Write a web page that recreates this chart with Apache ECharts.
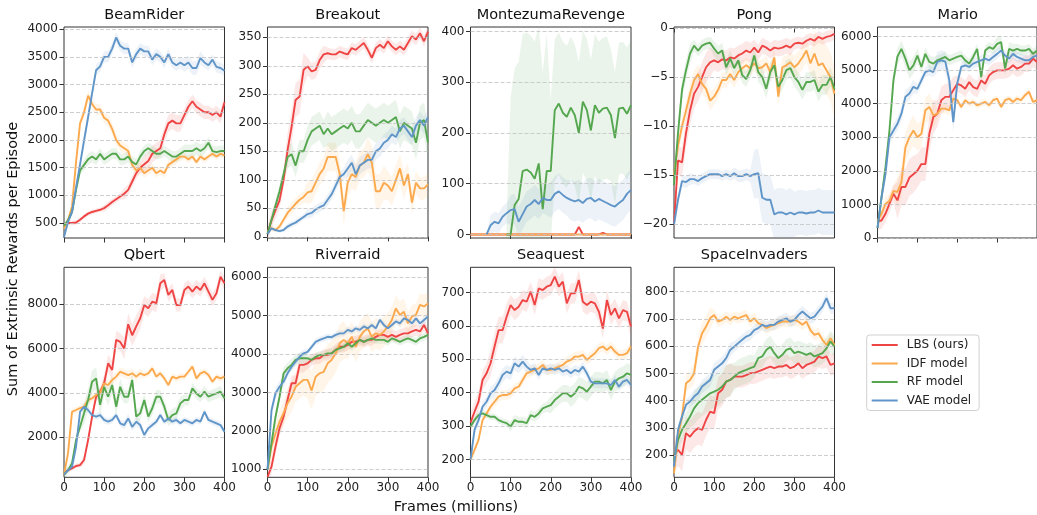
<!DOCTYPE html>
<html>
<head>
<meta charset="utf-8" />
<title>Sum of Extrinsic Rewards per Episode</title>
<script src="https://cdn.jsdelivr.net/npm/echarts@6/dist/echarts.min.js"></script>
<style>
  html, body { margin: 0; padding: 0; background: #fff; }
  #chart { width: 1037px; height: 515px; }
</style>
</head>
<body>
<div id="chart"></div>
<script>
// x grid, millions of frames
var frames = [0,10,20,30,40,50,60,70,80,90,100,110,120,130,140,150,160,170,180,190,200,
  210,220,230,240,250,260,270,280,290,300,310,320,330,340,350,360,370,380,390,400];

var modelNames = ['LBS (ours)', 'IDF model', 'RF model', 'VAE model'];

// BeamRider
var beamRiderLBS = [450,500,500,510,560,620,670,700,720,740,770,820,880,930,980,1030,1100,1250,1400,1500,1560,1620,1750,1800,1850,2100,2300,2350,2300,2300,2450,2600,2700,2600,2550,2500,2500,2450,2500,2420,2680];
var beamRiderIDF = [400,550,800,1600,2300,2500,2800,2650,2550,2550,2400,2350,2200,2000,1900,1850,1800,1550,1450,1500,1400,1450,1500,1400,1450,1400,1550,1600,1650,1700,1700,1650,1700,1600,1700,1650,1700,1750,1700,1750,1720];
var beamRiderRF = [450,550,700,1100,1450,1550,1650,1700,1650,1750,1650,1700,1750,1750,1650,1650,1700,1600,1560,1700,1800,1850,1800,1750,1750,1800,1750,1700,1700,1750,1800,1800,1800,1850,1800,1850,1950,1800,1780,1800,1800];
var beamRiderVAE = [250,520,700,1140,1560,1990,2410,2840,3260,3330,3500,3500,3650,3850,3700,3650,3650,3400,3550,3650,3600,3600,3450,3550,3500,3400,3550,3400,3350,3400,3350,3400,3300,3300,3480,3400,3350,3450,3320,3300,3250];
var beamRiderSpread = [[40,40,60,100,150,150,120,120],[60,100,100,100,80,80,60,60],[60,100,100,100,100,100,120,100],[60,100,100,100,100,100,120,100]];
var beamRiderTicks = [500,1000,1500,2000,2500,3000,3500,4000];

// Breakout
var breakoutLBS = [5,29,47,64,100,152,193,240,246,293,299,290,293,310,320,322,320,320,325,322,320,331,328,334,340,328,314,331,337,331,343,334,328,334,328,340,352,346,357,343,360];
var breakoutIDF = [10,15,12,18,30,42,50,58,65,70,78,80,95,110,120,140,140,140,110,45,95,110,105,125,130,145,130,80,80,95,90,80,100,120,90,110,60,95,85,85,92];
var breakoutRF = [5,30,55,80,110,140,145,125,150,150,170,185,190,195,180,190,180,185,190,195,190,200,185,185,195,205,200,195,200,205,200,205,210,185,200,195,190,165,200,205,165];
var breakoutVAE = [5,15,12,10,12,18,22,25,30,35,40,42,48,52,55,65,75,90,105,110,120,130,110,125,130,135,135,150,155,165,170,180,175,190,195,185,175,195,205,195,210];
var breakoutSpread = [[15,30,15,10,10,10,10,10],[5,10,20,25,25,30,25,20],[10,20,25,30,30,30,30,30],[3,5,8,10,15,15,15,15]];
var breakoutTicks = [0,50,100,150,200,250,300,350];

// MontezumaRevenge
var montezumaLBS = [0,0,0,0,0,0,0,0,0,0,0,0,0,0,0,0,0,0,0,0,0,0,0,0,0,0,0,15,0,0,0,0,0,3,0,0,0,0,0,0,0];
var montezumaIDF = [0,0,0,0,0,0,0,0,0,0,0,0,0,0,0,0,0,0,0,0,0,0,0,0,0,0,0,0,0,0,0,0,0,0,0,0,0,0,0,0,0];
var montezumaRF = [null,null,null,null,null,null,null,null,null,0,0,58,70,125,128,122,110,140,50,125,125,245,258,240,232,250,235,200,262,245,205,255,240,248,250,235,190,248,250,238,255];
var montezumaVAE = [null,null,null,null,0,18,25,22,35,42,48,50,25,40,55,60,68,60,72,68,68,80,85,78,72,68,65,68,62,70,72,65,70,66,62,58,55,62,68,80,88];
var montezumaSpread = [[0,0,0,0,0,0,0,0],[0,0,0,0,0,0,0,0],[0,30,270,270,140,140,140,130],[0,20,30,30,35,40,40,40]];
var montezumaTicks = [0,100,200,300,400];

// Pong
var pongLBS = [-20,-13.5,-13.7,-10.7,-8.4,-6.7,-6.0,-5.0,-4.0,-3.5,-3.3,-3.5,-3.2,-3.3,-3.0,-3.1,-2.8,-2.6,-2.3,-2.5,-2.0,-2.5,-1.8,-2.0,-2.3,-2.0,-2.1,-2.0,-1.8,-2.0,-1.6,-1.5,-1.6,-1.3,-1.1,-1.3,-0.9,-1.1,-0.9,-0.8,-0.6];
var pongIDF = [-15,-12,-10,-8.4,-6.7,-5.3,-4.7,-5.7,-6.2,-7.4,-7.0,-6.3,-5.3,-5.3,-4.7,-5.3,-4.5,-4.1,-3.8,-4.1,-3.6,-4.1,-4.0,-3.6,-4.5,-3.0,-7.0,-4.0,-3.8,-3.5,-4.0,-3.6,-3.0,-2.3,-3.6,-2.6,-3.8,-3.6,-4.3,-5.0,-6.7];
var pongRF = [-16,-10.7,-6.3,-4.3,-2.6,-1.8,-2.3,-1.8,-1.6,-1.5,-2.1,-2.6,-2.3,-4.0,-3.1,-4.1,-3.3,-4.8,-5.2,-4.3,-2.8,-4.5,-5.0,-6.2,-4.5,-3.8,-6.0,-5.3,-4.3,-4.1,-5.0,-5.5,-6.3,-5.5,-5.5,-5.3,-6.5,-5.8,-5.8,-5.0,-6.2];
var pongVAE = [-20,-17.5,-15.6,-15.7,-15.4,-15.4,-15.6,-15.3,-15.1,-14.9,-14.9,-14.9,-15.1,-14.9,-15.1,-14.8,-15.1,-15.1,-14.9,-15.1,-14.9,-14.8,-17.3,-17.5,-17.5,-19.0,-18.8,-18.8,-19.0,-18.8,-19.0,-18.8,-18.8,-18.9,-18.8,-18.8,-18.6,-18.8,-18.8,-18.8,-18.8];
var pongSpread = [[1.5,1.5,1,1,0.8,0.8,0.6,0.6],[1,1,0.8,0.8,0.8,1,1.2,2.5],[1,0.6,0.8,0.8,1,1,1,1],[0.6,0.5,0.5,0.6,2.5,2.5,2.3,2.3]];
var pongTicks = [-20,-15,-10,-5,0];

// Mario
var marioLBS = [500,520,720,1020,1320,1120,1520,1520,1800,1900,2000,2200,2200,3100,3600,3700,4100,4200,4200,4400,4590,4540,4440,4640,4490,4440,4690,4590,4840,4940,4990,4990,4990,5040,5140,5040,5090,5190,5190,5340,5240];
var marioIDF = [500,720,1020,1100,1400,1370,1660,2700,3000,3200,3000,3100,3800,3900,3650,3700,3850,3850,3800,4150,4100,3900,4100,4000,4050,3950,4000,4050,3950,4100,4150,3900,4100,4150,4050,4150,4100,4250,4350,4050,4100];
var marioRF = [300,1200,2100,3200,4700,5400,5630,5340,4990,5140,5430,5090,5480,5240,5190,5290,5340,5390,5290,5340,5390,5430,5290,5190,5390,5630,4790,5580,5680,5630,5780,5830,5040,5630,5580,5630,5580,5580,5630,5480,5580];
var marioVAE = [300,1200,1900,3000,3200,3400,3700,4200,4300,4500,4440,4690,4940,4990,4940,5240,5290,5250,4700,3450,4600,5090,5140,5090,5190,5240,5290,5340,5290,5390,5480,5580,5430,5340,5480,5390,5340,5290,5290,5390,5430];
var marioSpread = [[250,550,500,400,250,250,250,250],[200,450,400,150,100,100,100,100],[200,250,200,150,150,150,200,150],[200,200,150,300,150,150,150,150]];
var marioTicks = [0,1000,2000,3000,4000,5000,6000];

// Qbert
var qbertLBS = [350,500,580,690,730,960,1860,2920,3820,4050,4430,5330,5030,6390,6300,6000,7100,6600,7000,7370,7970,7820,8120,8050,8950,9100,8420,8650,7970,7970,8650,8800,8570,8800,8650,8950,8570,8200,8500,9250,8950];
var qbertIDF = [300,1260,3140,3220,3300,3370,3670,3750,3900,3970,4430,4350,4580,4730,4950,4880,4800,4880,4730,4880,4800,4880,5100,4730,4880,4650,4350,4730,4650,4730,4730,4950,5180,4650,4880,4950,4800,4500,4730,4650,4730];
var qbertRF = [300,500,800,1860,2460,3070,3670,4500,4650,3450,4270,3820,4350,3370,4270,3820,3820,4580,2920,3070,3670,2920,3300,3820,3820,3370,2770,2990,3070,3520,3670,3670,4200,3970,3820,4050,3820,3900,3970,4050,3750];
var qbertVAE = [300,500,650,1560,3140,3370,3220,2990,2920,2990,2770,2690,2770,2990,2620,2540,2840,2460,2690,2540,2090,2390,2540,2690,2990,2690,2840,2690,2770,2620,2770,2690,2620,2770,2690,3140,2770,2690,2620,2540,2240];
var qbertSpread = [[100,200,400,500,400,300,300,300],[150,200,200,200,150,150,150,150],[200,500,400,300,300,300,250,250],[100,150,150,200,150,150,150,150]];
var qbertTicks = [2000,4000,6000,8000];

// Riverraid
var riverraidLBS = [800,1070,1590,2070,2370,2810,3240,3240,3720,3720,3760,3850,3890,3890,3980,3980,4020,4110,4190,4190,4240,4320,4320,4370,4320,4370,4370,4450,4500,4500,4450,4500,4450,4500,4540,4540,4590,4630,4590,4760,4540];
var riverraidIDF = [1000,1590,1940,2240,2460,2720,2890,3150,3240,3330,3330,3050,3410,3500,3540,3760,3850,4020,4280,4370,4280,4450,4190,4450,4590,4670,4450,4540,4500,4590,4720,4890,5190,5020,5100,4800,4980,5020,5280,5240,5320];
var riverraidRF = [1000,1680,2370,2890,3500,3630,3720,3850,3890,3890,3890,3850,3930,3980,3980,4020,4020,4110,4150,4190,4280,4190,4280,4370,4320,4370,4410,4370,4370,4370,4320,4410,4370,4320,4370,4410,4370,4320,4410,4450,4500];
var riverraidVAE = [1000,2540,2980,3150,3280,3500,3670,3800,3930,4020,4060,4190,4320,4370,4410,4450,4440,4500,4540,4540,4630,4590,4670,4630,4720,4670,4760,4670,4890,4760,4670,4760,4850,4800,4930,4890,4800,4930,4800,4890,4980];
var riverraidSpread = [[200,200,150,150,150,150,150,150],[300,400,500,500,400,400,350,300],[150,150,100,100,100,100,100,100],[150,100,80,80,80,80,80,100]];
var riverraidTicks = [1000,2000,3000,4000,5000,6000];

// Seaquest
var seaquestLBS = [310,343,373,438,458,488,538,587,587,627,662,647,657,677,672,702,662,712,707,717,722,747,717,732,667,697,697,737,672,662,672,667,642,592,677,632,652,622,647,642,597];
var seaquestIDF = [200,229,259,318,338,358,373,388,393,393,398,413,418,438,458,463,468,473,483,468,468,473,478,483,493,498,508,508,513,498,508,518,533,538,528,538,523,513,513,518,538];
var seaquestRF = [299,318,333,338,333,328,328,318,313,309,299,318,313,313,309,333,328,338,353,358,363,378,388,398,398,388,398,418,413,403,418,433,433,428,438,408,433,443,448,458,453];
var seaquestVAE = [200,289,318,358,373,398,408,428,453,463,458,488,478,493,478,468,473,453,473,468,473,468,473,463,468,458,468,463,478,458,433,428,428,428,428,423,438,418,433,438,423];
var seaquestSpread = [[30,40,30,30,30,30,30,30],[10,15,15,15,15,15,15,15],[10,10,15,15,25,30,30,30],[15,20,20,15,15,15,15,15]];
var seaquestTicks = [200,300,400,500,600,700];

// SpaceInvaders
var spaceLBS = [200,220,201,281,268,287,299,293,330,360,354,427,440,470,476,488,488,488,494,501,501,507,513,519,525,519,525,525,531,519,525,537,519,531,537,543,562,556,562,531,537];
var spaceIDF = [134,268,342,464,476,500,598,647,672,702,714,690,696,708,696,708,702,708,714,690,702,684,678,666,672,678,684,690,690,690,696,690,678,690,659,641,647,623,604,629,604];
var spaceRF = [180,256,293,317,342,372,391,403,415,427,433,440,452,470,476,488,501,507,513,519,525,556,562,586,598,574,556,568,586,592,574,580,574,568,574,562,568,574,592,617,598];
var spaceVAE = [158,293,342,385,397,415,427,452,464,476,513,525,537,556,586,598,611,623,635,641,659,666,678,672,678,678,690,696,702,690,696,714,727,714,702,708,727,745,776,739,739];
var spaceSpread = [[60,60,60,40,40,40,40,40],[30,40,20,20,20,20,20,20],[40,60,60,50,40,40,40,40],[20,25,25,20,20,20,20,20]];
var spaceTicks = [200,300,400,500,600,700,800];

var panels = [
  { title: 'BeamRider', lines: [beamRiderLBS, beamRiderIDF, beamRiderRF, beamRiderVAE], spread: beamRiderSpread, ticks: beamRiderTicks, min: 230, max: 4040 },
  { title: 'Breakout', lines: [breakoutLBS, breakoutIDF, breakoutRF, breakoutVAE], spread: breakoutSpread, ticks: breakoutTicks, min: -2, max: 368 },
  { title: 'MontezumaRevenge', lines: [montezumaLBS, montezumaIDF, montezumaRF, montezumaVAE], spread: montezumaSpread, ticks: montezumaTicks, min: -7, max: 409 },
  { title: 'Pong', lines: [pongLBS, pongIDF, pongRF, pongVAE], spread: pongSpread, ticks: pongTicks, min: -21.4, max: 0.1 },
  { title: 'Mario', lines: [marioLBS, marioIDF, marioRF, marioVAE], spread: marioSpread, ticks: marioTicks, min: 0, max: 6280 },
  { title: 'Qbert', lines: [qbertLBS, qbertIDF, qbertRF, qbertVAE], spread: qbertSpread, ticks: qbertTicks, min: 177, max: 9673 },
  { title: 'Riverraid', lines: [riverraidLBS, riverraidIDF, riverraidRF, riverraidVAE], spread: riverraidSpread, ticks: riverraidTicks, min: 792, max: 6260 },
  { title: 'Seaquest', lines: [seaquestLBS, seaquestIDF, seaquestRF, seaquestVAE], spread: seaquestSpread, ticks: seaquestTicks, min: 147, max: 775 },
  { title: 'SpaceInvaders', lines: [spaceLBS, spaceIDF, spaceRF, spaceVAE], spread: spaceSpread, ticks: spaceTicks, min: 119, max: 889 }
];

var colors = ['#ef4444', '#fba94c', '#55a74f', '#5f95c8'];
var font = 'DejaVu Sans';
var colLeft = [64, 267.5, 470.5, 674, 877.5];
var rowTop = [27, 267.3];
var rowHeight = [211, 210];
var plotWidth = 160.5;

function minusSign(v) {
  return String(v).replace('-', '\u2212');
}

// shaded band: line value +/- spread of its 50-frame block
function bandSeries(idx, values, spread, color) {
  return {
    type: 'custom',
    xAxisIndex: idx,
    yAxisIndex: idx,
    silent: true,
    clip: true,
    z: 1,
    data: [[0, 0]],
    renderItem: function (params, api) {
      var upper = [], lower = [];
      frames.forEach(function (x, i) {
        if (values[i] === null) return;
        var w = spread[Math.min(spread.length - 1, Math.floor(x / 50))];
        upper.push(api.coord([x, values[i] + w]));
        lower.unshift(api.coord([x, values[i] - w]));
      });
      return {
        type: 'polygon',
        shape: { points: upper.concat(lower) },
        style: { fill: color, opacity: 0.12 }
      };
    }
  };
}

var grids = [], xAxes = [], yAxes = [], series = [], texts = [];

panels.forEach(function (p, idx) {
  var row = idx < 5 ? 0 : 1;
  var col = idx < 5 ? idx : idx - 5;
  grids.push({
    left: colLeft[col], top: rowTop[row], width: plotWidth, height: rowHeight[row],
    show: true, borderColor: '#333', borderWidth: 1, backgroundColor: 'transparent'
  });
  xAxes.push({
    type: 'value', gridIndex: idx, min: 0, max: 400, interval: 100,
    axisLine: { show: false },
    axisTick: { show: true, length: 4.5, lineStyle: { color: '#333' } },
    axisLabel: { show: row === 1, margin: 5, fontSize: 12, fontFamily: font, color: '#222' },
    splitLine: { show: false }
  });
  yAxes.push({
    type: 'value', gridIndex: idx, min: p.min, max: p.max,
    axisLine: { show: false },
    axisTick: { show: true, length: 4.5, customValues: p.ticks, lineStyle: { color: '#333' } },
    axisLabel: { customValues: p.ticks, margin: 6, fontSize: 12, fontFamily: font, color: '#222', formatter: minusSign },
    splitLine: { show: false }
  });
  // dashed horizontal grid lines at the tick values
  series.push({
    type: 'line', xAxisIndex: idx, yAxisIndex: idx, data: [], z: 0, silent: true,
    markLine: {
      silent: true, symbol: 'none', animation: false,
      label: { show: false },
      lineStyle: { color: '#c2c2c2', type: [4, 2], width: 0.8 },
      data: p.ticks.map(function (v) { return { yAxis: v }; })
    }
  });
  p.lines.forEach(function (values, k) {
    series.push(bandSeries(idx, values, p.spread[k], colors[k]));
  });
  p.lines.forEach(function (values, k) {
    series.push({
      name: modelNames[k],
      type: 'line',
      xAxisIndex: idx, yAxisIndex: idx,
      data: frames.map(function (x, i) { return [x, values[i] === null ? '-' : values[i]]; }),
      showSymbol: false, symbol: 'none', clip: true, z: 2,
      color: colors[k],
      lineStyle: { width: 1.9, color: colors[k] }
    });
  });
  texts.push({
    type: 'text', x: colLeft[col] + plotWidth / 2, y: row === 0 ? 15.5 : 255,
    style: { text: p.title, fontSize: 14.5, fontFamily: font, fill: '#111', textAlign: 'center', textVerticalAlign: 'middle' }
  });
});

texts.push({
  type: 'text', x: 456, y: 507,
  style: { text: 'Frames (millions)', fontSize: 14.5, fontFamily: font, fill: '#111', textAlign: 'center', textVerticalAlign: 'middle' }
});
texts.push({
  type: 'text', x: 13, y: 259, rotation: Math.PI / 2,
  style: { text: 'Sum of Extrinsic Rewards per Episode', fontSize: 14.5, fontFamily: font, fill: '#111', textAlign: 'center', textVerticalAlign: 'middle' }
});

var chart = echarts.init(document.getElementById('chart'), null, { renderer: 'canvas' });
chart.setOption({
  animation: false,
  backgroundColor: '#fff',
  grid: grids,
  xAxis: xAxes,
  yAxis: yAxes,
  legend: {
    data: modelNames,
    orient: 'vertical',
    left: 866.7, top: 335,
    backgroundColor: '#fff',
    borderColor: '#d0d0d0', borderWidth: 1, borderRadius: 3,
    padding: [4, 8, 4, 5],
    icon: 'rect', itemWidth: 26, itemHeight: 2,
    itemGap: 6.5,
    textStyle: { fontSize: 12, fontFamily: font, color: '#222', padding: [0, 0, 0, 4] }
  },
  graphic: texts,
  series: series
});
</script>
</body>
</html>
